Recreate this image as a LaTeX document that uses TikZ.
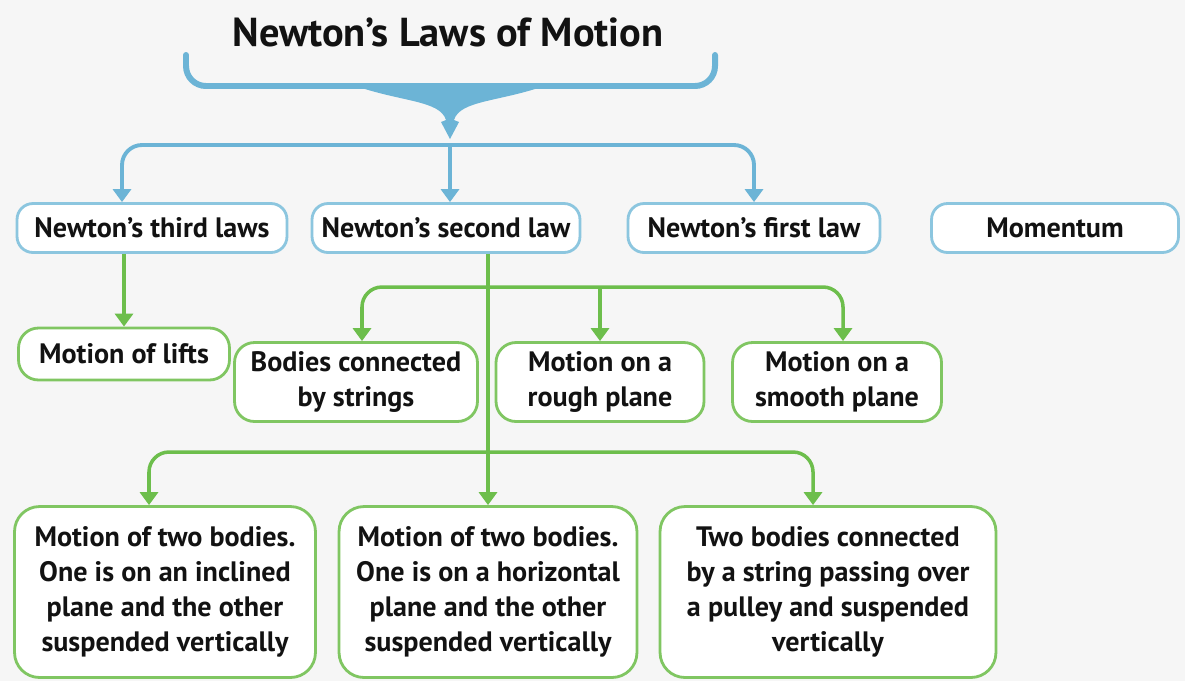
\documentclass[tikz,border=0pt]{standalone}
\usepackage{fontspec}
\setmainfont{PT Sans}
\usetikzlibrary{positioning, arrows.meta}

\definecolor{lawblue}{HTML}{6CB4D6}
\definecolor{boxblue}{HTML}{8CC6DF}
\definecolor{casegreen}{HTML}{6DBE4C}
\definecolor{boxgreen}{HTML}{80C662}
\definecolor{inkgray}{HTML}{121212}
\definecolor{paper}{HTML}{F6F6F6}

\begin{document}
\begin{tikzpicture}[
    x=0.02cm, y=-0.02cm,
    every node/.style={font=\bfseries\fontsize{16}{20}\selectfont, text=inkgray, align=center, inner sep=0pt},
    lawbox/.style={draw=boxblue, line width=1.6pt, fill=white, rounded corners=0.32cm, minimum height=0.98cm},
    casebox/.style={draw=boxgreen, line width=1.6pt, fill=white, rounded corners=0.4cm},
    bluearrow/.style={draw=lawblue, line width=2.2pt, rounded corners=0.4cm, -{Triangle[width=0.36cm,length=0.26cm]}},
    greenarrow/.style={draw=casegreen, line width=2pt, rounded corners=0.4cm, -{Triangle[width=0.36cm,length=0.26cm]}}
]
\path[fill=paper, use as bounding box] (0,0) rectangle (1185,681);

% title and brace
\node[font=\bfseries\fontsize{23}{26}\selectfont] (title) at (448,32) {Newton’s Laws of Motion};
\draw[lawblue, line width=3.4pt, line cap=round, rounded corners=0.4cm] (186,55) -- (186,86) -- (715,86) -- (715,55);
\fill[lawblue] (353,85) .. controls (400,102) and (440,100) .. (446,120) -- (441,122) -- (450,139)
    -- (459,122) -- (454,120) .. controls (460,100) and (500,102) .. (547,85) -- cycle;

% the laws
\node[lawbox, minimum width=5.4cm] (third) at (152,228) {Newton’s third laws};
\node[lawbox, minimum width=5.36cm] (second) at (446,228) {Newton’s second law};
\node[lawbox, minimum width=5.04cm] (first) at (754,228) {Newton’s first law};
\node[lawbox, minimum width=4.94cm] (momentum) at (1055,228) {Momentum};

% applications
\node[casebox, minimum width=4.22cm, minimum height=1.04cm] (lifts) at (124,354) {Motion of lifts};
\node[casebox, minimum width=4.86cm, minimum height=1.58cm] (strings) at (356,382) {Bodies connected\\by strings};
\node[casebox, minimum width=4.16cm, minimum height=1.58cm] (rough) at (600,382) {Motion on a\\rough plane};
\node[casebox, minimum width=4.18cm, minimum height=1.58cm] (smooth) at (837,382) {Motion on a\\smooth plane};

\node[casebox, rounded corners=0.5cm, minimum width=6.02cm, minimum height=3.42cm] (inclined) at (165,592)
    {Motion of two bodies.\\One is on an inclined\\plane and the other\\suspended vertically};
\node[casebox, rounded corners=0.5cm, minimum width=5.96cm, minimum height=3.42cm] (horizontal) at (488,592)
    {Motion of two bodies.\\One is on a horizontal\\plane and the other\\suspended vertically};
\node[casebox, rounded corners=0.5cm, minimum width=6.72cm, minimum height=3.42cm] (pulley) at (828,592)
    {Two bodies connected\\by a string passing over\\a pulley and suspended\\vertically};

% connectors
\coordinate (fork) at (450,145);
\draw[bluearrow] (fork) -| ([xshift=-0.6cm]third.north);
\draw[bluearrow] (fork) -| (first.north);
\draw[bluearrow] (fork) -- (fork |- second.north);

\draw[greenarrow] (lifts.north |- third.south) -- (lifts.north);
\draw[greenarrow] (horizontal.north |- second.south) -- (horizontal.north);

\coordinate (upper) at (488,287);
\draw[greenarrow] (upper) -| ([xshift=0.12cm]strings.north);
\draw[greenarrow] (upper) -| ([xshift=0.12cm]smooth.north);
\draw[greenarrow] (upper -| rough.north) -- (rough.north);

\coordinate (lower) at (488,452);
\draw[greenarrow] (lower) -| ([xshift=-0.32cm]inclined.north);
\draw[greenarrow] (lower) -| ([xshift=-0.3cm]pulley.north);
\end{tikzpicture}
\end{document}
